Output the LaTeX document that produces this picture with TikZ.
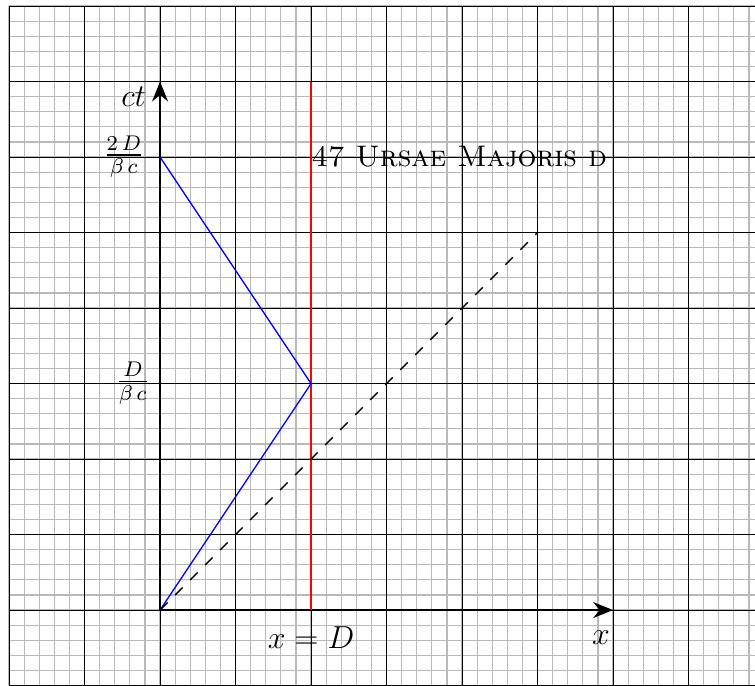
\documentclass[tikz,border=0pt]{standalone}
\usepackage{amssymb}
\usepackage{tikz}
\usetikzlibrary{positioning, calc, arrows.meta}

\begin{document}
\begin{tikzpicture}[>={Stealth[length=7.5pt, width=6pt]}, font=\large]
    \useasboundingbox (-2.12,-1) rectangle (7.88,8.08);
    % grid
    \foreach \i in {-10,...,39} {
      \draw[gray!55, line width=0.45pt] (\i/5, -1) -- (\i/5, 8);
    }
    \foreach \j in {-5,...,40} {
      \draw[gray!55, line width=0.45pt] (-2, \j/5) -- (7.9, \j/5);
    }
    \foreach \i in {-2,...,7} {
      \draw[black, line width=0.4pt] (\i, -1) -- (\i, 8);
    }
    \foreach \j in {-1,...,8} {
      \draw[black, line width=0.4pt] (-2, \j) -- (7.9, \j);
    }
    \coordinate (O) at (0,0);
    \coordinate (xend) at (6,0);
    \coordinate (tend) at (0,7);
    \coordinate (starbot) at (2,0);
    \coordinate (startop) at (2,7);
    \coordinate (turn) at (2,3);
    \coordinate (tturn) at (0,3);
    \coordinate (back) at (0,6);
    \coordinate (light) at (5,5);
    \draw[semithick, ->] (O) -- (xend);
    \draw[semithick, ->] (O) -- (tend);
    \draw[red, line width=0.6pt] (starbot) -- (startop);
    \draw[blue, line width=0.5pt] (O) -- (turn) -- (back);
    \draw[dash pattern=on 4pt off 4pt, line width=0.5pt] (O) -- (light);
    \draw[dash pattern=on 4pt off 4pt, line width=0.5pt] (tturn) -- (turn);
    \node (ctlab) at (-0.35,6.8) {$ct$};
    \node (xlab) at (5.84,-0.36) {$x$};
    \node (Dlab) at (2,-0.37) {$x=D$};
    \node (tback) at (-0.48,6) {$\frac{2\,D}{\beta\,c}$};
    \node (tmid) at (-0.36,3) {$\frac{D}{\beta\,c}$};
    \node[anchor=west, inner sep=0pt, font=\fontsize{11.2}{13}\selectfont] (star) at (2,6) {\textsc{47 Ursae Majoris d}};
  \end{tikzpicture}
\end{document}
